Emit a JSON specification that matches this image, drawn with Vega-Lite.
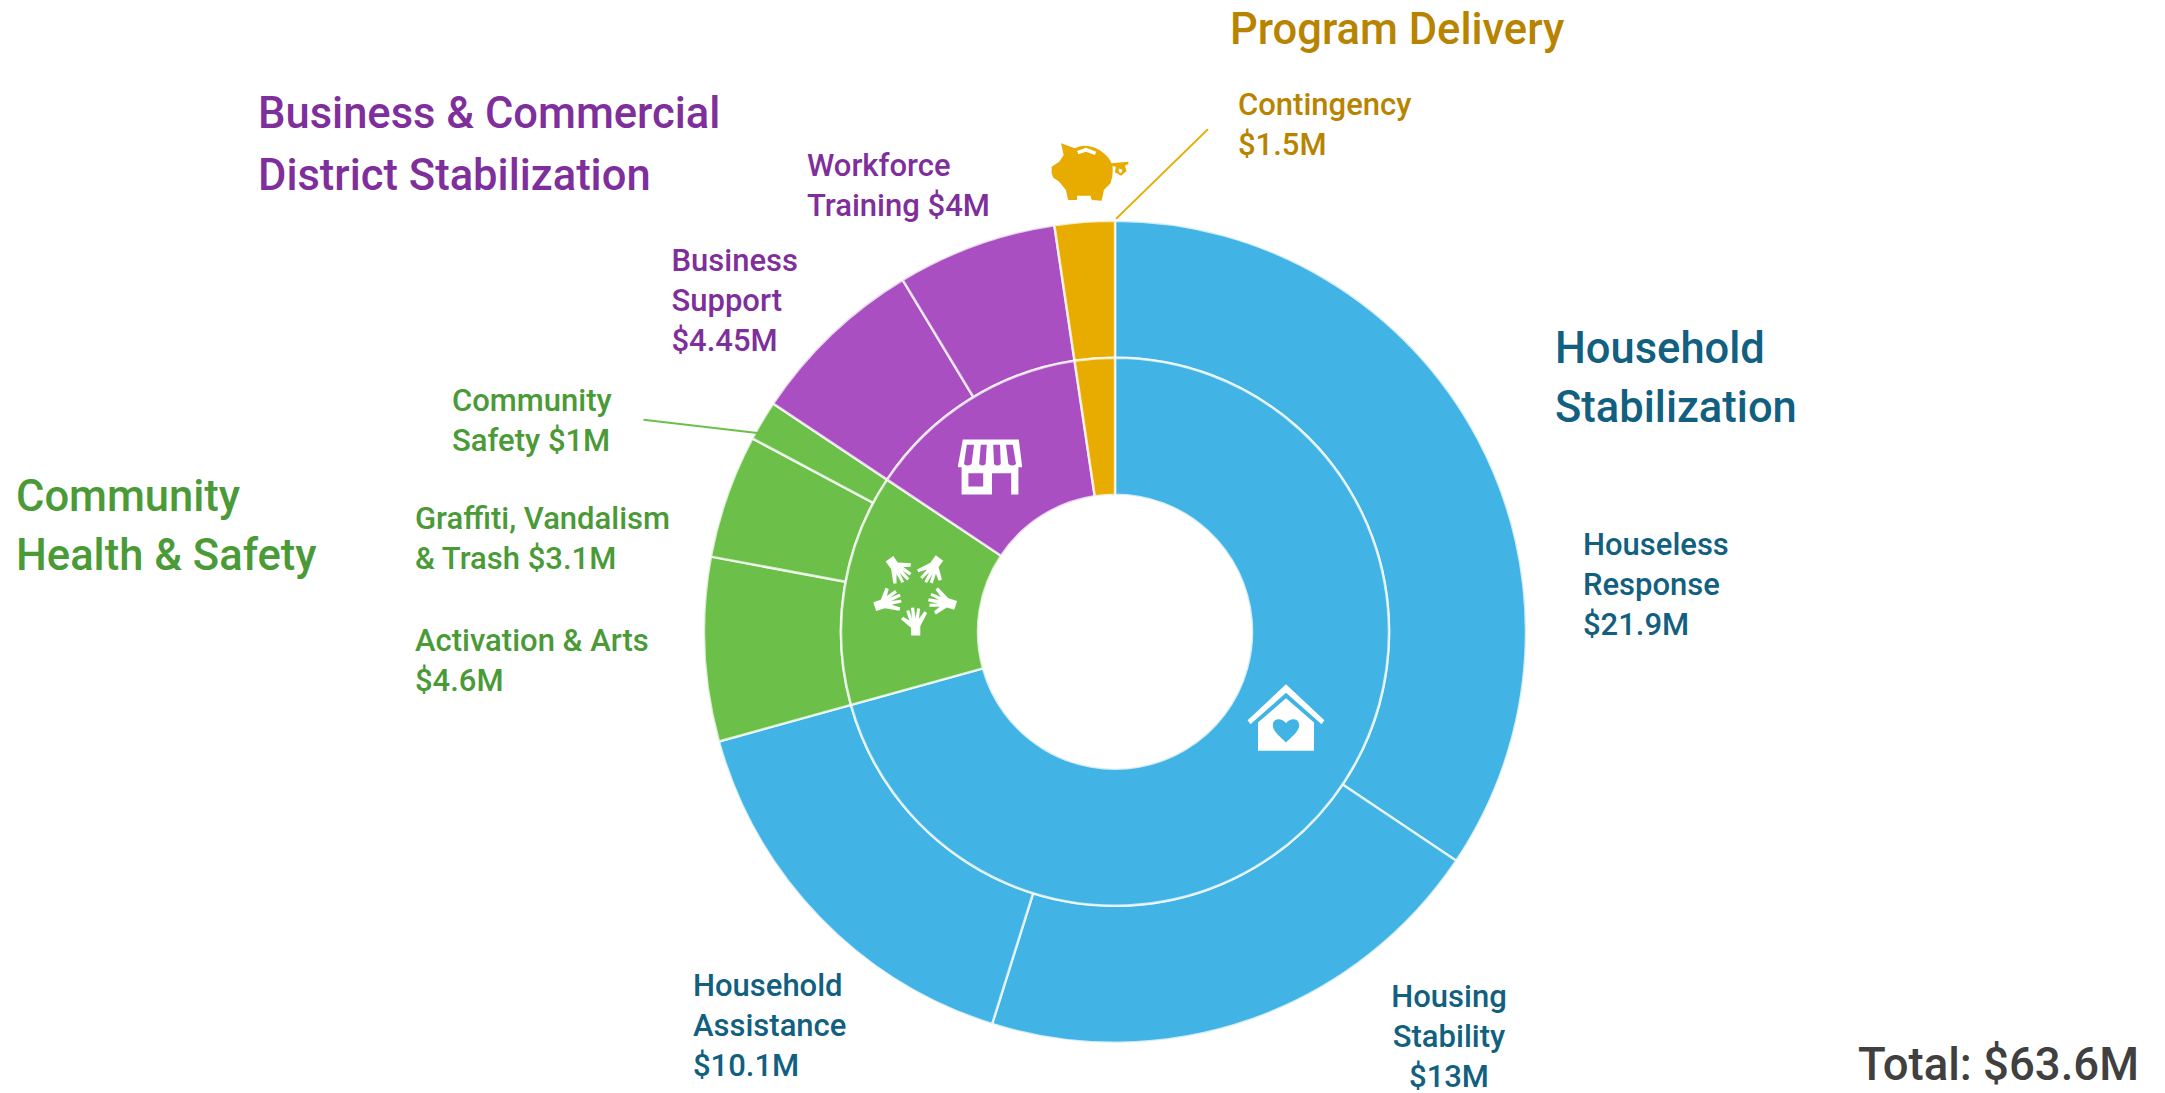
{"$schema":"https://vega.github.io/schema/vega-lite/v6.json","width":2165,"height":1093,"padding":0,"autosize":{"type":"fit","contains":"padding"},"background":"#ffffff","config":{"view":{"stroke":null},"text":{"font":"Roboto","fontWeight":500,"fontSize":31,"lineBreak":"\n","lineHeight":40,"align":"left","baseline":"alphabetic"}},
"datasets":{"programs":[
{"program":"Houseless Response","group":"Household Stabilization","rank":1,"amount":21.9,"label":"Houseless\nResponse\n$21.9M"},
{"program":"Housing Stability","group":"Household Stabilization","rank":2,"amount":13,"label":"Housing\nStability\n$13M"},
{"program":"Household Assistance","group":"Household Stabilization","rank":3,"amount":10.1,"label":"Household\nAssistance\n$10.1M"},
{"program":"Activation & Arts","group":"Community Health & Safety","rank":4,"amount":4.6,"label":"Activation & Arts\n$4.6M"},
{"program":"Graffiti, Vandalism & Trash","group":"Community Health & Safety","rank":5,"amount":3.1,"label":"Graffiti, Vandalism\n& Trash $3.1M"},
{"program":"Community Safety","group":"Community Health & Safety","rank":6,"amount":1,"label":"Community\nSafety $1M"},
{"program":"Business Support","group":"Business & Commercial District Stabilization","rank":7,"amount":4.45,"label":"Business\nSupport\n$4.45M"},
{"program":"Workforce Training","group":"Business & Commercial District Stabilization","rank":8,"amount":4,"label":"Workforce\nTraining $4M"},
{"program":"Contingency","group":"Program Delivery","rank":9,"amount":1.5,"label":"Contingency\n$1.5M"}],
"groups":[
{"group":"Household Stabilization","rank":1,"amount":45,"label":"Household\nStabilization"},
{"group":"Community Health & Safety","rank":2,"amount":8.7,"label":"Community\nHealth & Safety"},
{"group":"Business & Commercial District Stabilization","rank":3,"amount":8.45,"label":"Business & Commercial\nDistrict Stabilization"},
{"group":"Program Delivery","rank":4,"amount":1.5,"label":"Program Delivery"}],
"summary":[{"label":"Total: $63.6M","amount":63.6}]},
"layer":[
{"data":{"name":"programs"},"mark":{"type":"arc","innerRadius":274,"outerRadius":411,"stroke":"#ffffff","strokeOpacity":0.75,"strokeWidth":2.5},"encoding":{"x":{"datum":0,"type":"quantitative","scale":{"domain":[-1115,1050]},"axis":null},"y":{"datum":-2,"type":"quantitative","scale":{"domain":[-461.5,631.5]},"axis":null},"theta":{"field":"amount","type":"quantitative","stack":true,"scale":{"domain":[0,63.65]}},"order":{"field":"rank","type":"quantitative"},"color":{"field":"group","type":"nominal","legend":null,"scale":{"domain":["Household Stabilization","Community Health & Safety","Business & Commercial District Stabilization","Program Delivery"],"range":["#41B3E4","#6CC04A","#A94FC1","#E8AB00"]}}}},
{"data":{"name":"groups"},"mark":{"type":"arc","innerRadius":137,"outerRadius":274,"stroke":"#ffffff","strokeOpacity":0.75,"strokeWidth":2.5},"encoding":{"x":{"datum":0,"type":"quantitative","scale":{"domain":[-1115,1050]},"axis":null},"y":{"datum":-2,"type":"quantitative","scale":{"domain":[-461.5,631.5]},"axis":null},"theta":{"field":"amount","type":"quantitative","stack":true,"scale":{"domain":[0,63.65]}},"order":{"field":"rank","type":"quantitative"},"color":{"field":"group","type":"nominal","legend":null}}},
{"data":{"name":"programs"},"transform":[{"filter":"datum.program==='Contingency'"}],"mark":{"type":"rule","color":"#E8AB00","strokeWidth":2},"encoding":{"x":{"datum":93,"type":"quantitative","scale":{"domain":[-1115,1050]},"axis":null},"y":{"datum":502,"type":"quantitative","scale":{"domain":[-461.5,631.5]},"axis":null},"x2":{"datum":1},"y2":{"datum":412}}},
{"data":{"name":"programs"},"transform":[{"filter":"datum.program==='Community Safety'"}],"mark":{"type":"rule","color":"#6CC04A","strokeWidth":2},"encoding":{"x":{"datum":-471.5,"type":"quantitative","scale":{"domain":[-1115,1050]},"axis":null},"y":{"datum":210.5,"type":"quantitative","scale":{"domain":[-461.5,631.5]},"axis":null},"x2":{"datum":-355.5},"y2":{"datum":197}}},
{"data":{"name":"groups"},"transform":[{"filter":"datum.rank===1"}],"mark":{"type":"point","filled":true,"fill":"#ffffff","opacity":1,"size":6400,"strokeWidth":0,"shape":"M0,-0.83 L0.96,0.07 L0.89,0.17 L0,-0.62 L-0.89,0.17 L-0.96,0.07 Z M0,-0.48 L0.7,0.125 L0.7,0.83 L-0.7,0.83 L-0.7,0.125 Z M0,0.14 C-0.1,0 -0.33,0 -0.33,0.2 C-0.33,0.35 -0.1,0.52 0,0.625 C0.1,0.52 0.33,0.35 0.33,0.2 C0.33,0 0.1,0 0,0.14 Z"},"encoding":{"x":{"datum":171,"type":"quantitative","scale":{"domain":[-1115,1050]},"axis":null},"y":{"datum":-88,"type":"quantitative","scale":{"domain":[-461.5,631.5]},"axis":null}}},
{"data":{"name":"groups"},"transform":[{"filter":"datum.rank===3"}],"mark":{"type":"point","filled":true,"fill":"#ffffff","opacity":1,"size":6400,"strokeWidth":0,"shape":"M-0.68,-0.69 L0.72,-0.69 L0.8,-0.04 L0.8,0 L-0.8,0 L-0.8,-0.04 Z M-0.58,-0.56 L-0.65,-0.08 Q-0.56,0 -0.46,-0.08 L-0.4,-0.56 Z M-0.23,-0.56 L-0.27,-0.08 Q-0.19,0 -0.11,-0.08 L-0.08,-0.56 Z M0.08,-0.56 L0.1,-0.08 Q0.19,0 0.27,-0.08 L0.25,-0.56 Z M0.4,-0.56 L0.46,-0.08 Q0.56,0 0.65,-0.08 L0.57,-0.56 Z M-0.71,0 L0.71,0 L0.71,0.68 L0.53,0.68 L0.53,0.15 L0.05,0.15 L0.05,0.68 L-0.71,0.68 Z M-0.54,0.15 L-0.54,0.48 L-0.17,0.48 L-0.17,0.15 Z"},"encoding":{"x":{"datum":-125,"type":"quantitative","scale":{"domain":[-1115,1050]},"axis":null},"y":{"datum":163,"type":"quantitative","scale":{"domain":[-461.5,631.5]},"axis":null}}},
{"data":{"name":"groups"},"transform":[{"filter":"datum.rank===4"}],"mark":{"type":"point","filled":true,"fill":"#E8AB00","opacity":1,"size":6400,"strokeWidth":0,"shape":"M-0.725,-0.717 L-0.379,-0.592 Q-0.27,-0.66 -0.156,-0.658 Q0.15,-0.65 0.346,-0.467 Q0.55,-0.3 0.569,-0.092 Q0.58,0.1 0.513,0.283 L0.346,0.45 L0.29,0.717 L0.045,0.7 L0.011,0.592 L-0.324,0.592 L-0.324,0.7 L-0.547,0.7 L-0.603,0.45 L-0.77,0.242 L-0.915,0.142 L-0.96,0.033 L-0.96,-0.133 L-0.77,-0.258 L-0.658,-0.425 Z M-0.324,-0.525 L-0.29,-0.442 L-0.1,-0.508 L0.123,-0.425 L0.156,-0.508 L-0.1,-0.608 Z M0.536,-0.217 L0.96,-0.258 L0.96,-0.2 L0.87,-0.158 L0.915,-0.025 L0.78,0.092 L0.625,0.008 L0.647,-0.133 L0.536,-0.15 Z M0.72,-0.09 L0.72,0 L0.78,0.03 L0.81,-0.06 Z"},"encoding":{"x":{"datum":-25,"type":"quantitative","scale":{"domain":[-1115,1050]},"axis":null},"y":{"datum":459,"type":"quantitative","scale":{"domain":[-461.5,631.5]},"axis":null}}},
{"data":{"name":"groups"},"transform":[{"filter":"datum.rank===2"}],"encoding":{"x":{"datum":-200,"type":"quantitative","scale":{"domain":[-1115,1050]},"axis":null},"y":{"datum":37,"type":"quantitative","scale":{"domain":[-461.5,631.5]},"axis":null}},"layer":[
{"mark":{"type":"point","filled":true,"fill":"#ffffff","opacity":1,"size":7744,"strokeWidth":0,"angle":0,"shape":"M-0.09,0.967 L-0.09,0.79 L-0.32,0.6 L-0.27,0.54 L-0.13,0.63 L-0.2,0.41 L-0.13,0.39 L-0.07,0.58 L-0.09,0.34 L-0.02,0.335 L0.012,0.57 L0.05,0.35 L0.115,0.36 L0.09,0.59 L0.215,0.42 L0.275,0.46 L0.12,0.76 L0.12,0.967 Z"}},
{"mark":{"type":"point","filled":true,"fill":"#ffffff","opacity":1,"size":7744,"strokeWidth":0,"angle":72,"shape":"M-0.09,0.967 L-0.09,0.79 L-0.32,0.6 L-0.27,0.54 L-0.13,0.63 L-0.2,0.41 L-0.13,0.39 L-0.07,0.58 L-0.09,0.34 L-0.02,0.335 L0.012,0.57 L0.05,0.35 L0.115,0.36 L0.09,0.59 L0.215,0.42 L0.275,0.46 L0.12,0.76 L0.12,0.967 Z"}},
{"mark":{"type":"point","filled":true,"fill":"#ffffff","opacity":1,"size":7744,"strokeWidth":0,"angle":144,"shape":"M-0.09,0.967 L-0.09,0.79 L-0.32,0.6 L-0.27,0.54 L-0.13,0.63 L-0.2,0.41 L-0.13,0.39 L-0.07,0.58 L-0.09,0.34 L-0.02,0.335 L0.012,0.57 L0.05,0.35 L0.115,0.36 L0.09,0.59 L0.215,0.42 L0.275,0.46 L0.12,0.76 L0.12,0.967 Z"}},
{"mark":{"type":"point","filled":true,"fill":"#ffffff","opacity":1,"size":7744,"strokeWidth":0,"angle":216,"shape":"M-0.09,0.967 L-0.09,0.79 L-0.32,0.6 L-0.27,0.54 L-0.13,0.63 L-0.2,0.41 L-0.13,0.39 L-0.07,0.58 L-0.09,0.34 L-0.02,0.335 L0.012,0.57 L0.05,0.35 L0.115,0.36 L0.09,0.59 L0.215,0.42 L0.275,0.46 L0.12,0.76 L0.12,0.967 Z"}},
{"mark":{"type":"point","filled":true,"fill":"#ffffff","opacity":1,"size":7744,"strokeWidth":0,"angle":288,"shape":"M-0.09,0.967 L-0.09,0.79 L-0.32,0.6 L-0.27,0.54 L-0.13,0.63 L-0.2,0.41 L-0.13,0.39 L-0.07,0.58 L-0.09,0.34 L-0.02,0.335 L0.012,0.57 L0.05,0.35 L0.115,0.36 L0.09,0.59 L0.215,0.42 L0.275,0.46 L0.12,0.76 L0.12,0.967 Z"}}]},
{"data":{"name":"groups"},"transform":[{"filter":"datum.rank===1"}],"mark":{"type":"text","fill":"#12607F","fontSize":43.5,"lineHeight":59},"encoding":{"text":{"field":"label"},"x":{"datum":440,"type":"quantitative","scale":{"domain":[-1115,1050]},"axis":null},"y":{"datum":267,"type":"quantitative","scale":{"domain":[-461.5,631.5]},"axis":null}}},
{"data":{"name":"groups"},"transform":[{"filter":"datum.rank===2"}],"mark":{"type":"text","fill":"#4A9A37","fontSize":43.5,"lineHeight":59},"encoding":{"text":{"field":"label"},"x":{"datum":-1099,"type":"quantitative","scale":{"domain":[-1115,1050]},"axis":null},"y":{"datum":119,"type":"quantitative","scale":{"domain":[-461.5,631.5]},"axis":null}}},
{"data":{"name":"groups"},"transform":[{"filter":"datum.rank===3"}],"mark":{"type":"text","fill":"#7F2F9B","fontSize":43.5,"lineHeight":62},"encoding":{"text":{"field":"label"},"x":{"datum":-857,"type":"quantitative","scale":{"domain":[-1115,1050]},"axis":null},"y":{"datum":503,"type":"quantitative","scale":{"domain":[-461.5,631.5]},"axis":null}}},
{"data":{"name":"groups"},"transform":[{"filter":"datum.rank===4"}],"mark":{"type":"text","fill":"#B88400","fontSize":43.5},"encoding":{"text":{"field":"label"},"x":{"datum":115,"type":"quantitative","scale":{"domain":[-1115,1050]},"axis":null},"y":{"datum":587,"type":"quantitative","scale":{"domain":[-461.5,631.5]},"axis":null}}},
{"data":{"name":"programs"},"transform":[{"filter":"datum.rank===1"}],"mark":{"type":"text","fill":"#12607F"},"encoding":{"text":{"field":"label"},"x":{"datum":468,"type":"quantitative","scale":{"domain":[-1115,1050]},"axis":null},"y":{"datum":75,"type":"quantitative","scale":{"domain":[-461.5,631.5]},"axis":null}}},
{"data":{"name":"programs"},"transform":[{"filter":"datum.rank===2"}],"mark":{"type":"text","fill":"#12607F","align":"center"},"encoding":{"text":{"field":"label"},"x":{"datum":334,"type":"quantitative","scale":{"domain":[-1115,1050]},"axis":null},"y":{"datum":-378,"type":"quantitative","scale":{"domain":[-461.5,631.5]},"axis":null}}},
{"data":{"name":"programs"},"transform":[{"filter":"datum.rank===3"}],"mark":{"type":"text","fill":"#12607F"},"encoding":{"text":{"field":"label"},"x":{"datum":-422,"type":"quantitative","scale":{"domain":[-1115,1050]},"axis":null},"y":{"datum":-367,"type":"quantitative","scale":{"domain":[-461.5,631.5]},"axis":null}}},
{"data":{"name":"programs"},"transform":[{"filter":"datum.rank===4"}],"mark":{"type":"text","fill":"#4A9A37"},"encoding":{"text":{"field":"label"},"x":{"datum":-700,"type":"quantitative","scale":{"domain":[-1115,1050]},"axis":null},"y":{"datum":-21.5,"type":"quantitative","scale":{"domain":[-461.5,631.5]},"axis":null}}},
{"data":{"name":"programs"},"transform":[{"filter":"datum.rank===5"}],"mark":{"type":"text","fill":"#4A9A37"},"encoding":{"text":{"field":"label"},"x":{"datum":-700,"type":"quantitative","scale":{"domain":[-1115,1050]},"axis":null},"y":{"datum":101,"type":"quantitative","scale":{"domain":[-461.5,631.5]},"axis":null}}},
{"data":{"name":"programs"},"transform":[{"filter":"datum.rank===6"}],"mark":{"type":"text","fill":"#4A9A37"},"encoding":{"text":{"field":"label"},"x":{"datum":-663,"type":"quantitative","scale":{"domain":[-1115,1050]},"axis":null},"y":{"datum":219,"type":"quantitative","scale":{"domain":[-461.5,631.5]},"axis":null}}},
{"data":{"name":"programs"},"transform":[{"filter":"datum.rank===7"}],"mark":{"type":"text","fill":"#7F2F9B"},"encoding":{"text":{"field":"label"},"x":{"datum":-443.5,"type":"quantitative","scale":{"domain":[-1115,1050]},"axis":null},"y":{"datum":359.5,"type":"quantitative","scale":{"domain":[-461.5,631.5]},"axis":null}}},
{"data":{"name":"programs"},"transform":[{"filter":"datum.rank===8"}],"mark":{"type":"text","fill":"#7F2F9B"},"encoding":{"text":{"field":"label"},"x":{"datum":-308,"type":"quantitative","scale":{"domain":[-1115,1050]},"axis":null},"y":{"datum":455,"type":"quantitative","scale":{"domain":[-461.5,631.5]},"axis":null}}},
{"data":{"name":"programs"},"transform":[{"filter":"datum.rank===9"}],"mark":{"type":"text","fill":"#B88400"},"encoding":{"text":{"field":"label"},"x":{"datum":123,"type":"quantitative","scale":{"domain":[-1115,1050]},"axis":null},"y":{"datum":516,"type":"quantitative","scale":{"domain":[-461.5,631.5]},"axis":null}}},
{"data":{"name":"summary"},"mark":{"type":"text","fill":"#404040","fontSize":45.5,"align":"right"},"encoding":{"text":{"field":"label"},"x":{"datum":1024,"type":"quantitative","scale":{"domain":[-1115,1050]},"axis":null},"y":{"datum":-451,"type":"quantitative","scale":{"domain":[-461.5,631.5]},"axis":null}}}
]}
